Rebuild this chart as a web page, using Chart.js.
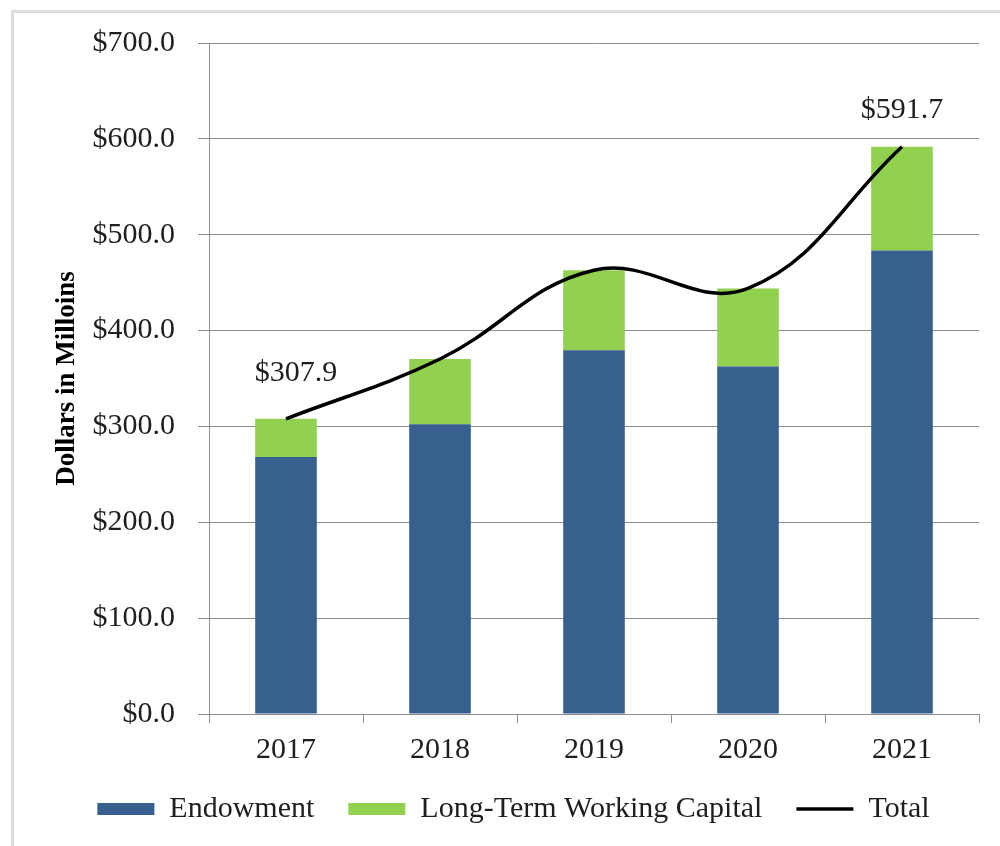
<!DOCTYPE html>
<html>
<head>
<meta charset="utf-8">
<script src="https://cdn.jsdelivr.net/npm/chart.js@4.4.1/dist/chart.umd.min.js"></script>
<style>
  html, body { margin: 0; padding: 0; background: #ffffff; }
  #wrap { position: relative; width: 1000px; height: 846px; overflow: hidden; }
  #frame { position: absolute; left: 11px; top: 10px; right: -10px; bottom: -10px;
           border-left: 3px solid #dcdcdc; border-top: 3px solid #dcdcdc; pointer-events: none; }
  canvas { position: absolute; left: 0; top: 0; }
</style>
</head>
<body>
<div id="wrap">
  <canvas id="fundChart" width="1000" height="846"></canvas>
  <div id="frame"></div>
</div>
<script>
// chart data
const years = ['2017', '2018', '2019', '2020', '2021'];
const endowment = [268.2, 302.3, 379.5, 362.5, 483.5];
const workingCapital = [39.7, 68.0, 83.5, 81.5, 108.2];
const totals = [307.9, 370.3, 463.0, 444.0, 591.7];
const labelledPoints = [0, 4];   // only first and last total get a value label

const serif = '"Liberation Serif", "Times New Roman", serif';
const gridGray = '#8f8f8f';
const textColor = '#1e1e1e';

// writes the total value above the first and last points of the line
const totalLabels = {
    id: 'totalLabels',
    afterDatasetsDraw(chart) {
        const meta = chart.getDatasetMeta(2);
        const ctx = chart.ctx;
        const shift = { 0: [10, -46], 4: [0, -37] };
        ctx.save();
        ctx.font = '30px ' + serif;
        ctx.fillStyle = textColor;
        ctx.textAlign = 'center';
        ctx.textBaseline = 'middle';
        labelledPoints.forEach(i => {
            const pt = meta.data[i];
            const d = shift[i] || [0, -40];
            ctx.fillText('$' + totals[i].toFixed(1), pt.x + d[0], pt.y + d[1]);
        });
        ctx.restore();
    }
};

// keep the legend band short even with wide item spacing
const legendHeight = {
    id: 'legendHeight',
    afterInit(chart) {
        const lg = chart.legend;
        if (!lg) return;
        const fit = lg.fit;
        lg.fit = function () {
            fit.call(this);
            this.height = 86;
        };
    }
};

const ctx = document.getElementById('fundChart');

new Chart(ctx.getContext('2d'), {
    type: 'bar',
    data: {
        labels: years,
        datasets: [
            {
                label: 'Endowment',
                data: endowment,
                backgroundColor: '#37608f',
                borderWidth: 0,
                barPercentage: 0.4,
                categoryPercentage: 1.0,
                order: 2
            },
            {
                label: 'Long-Term Working Capital',
                data: workingCapital,
                backgroundColor: '#92d050',
                borderWidth: 0,
                barPercentage: 0.4,
                categoryPercentage: 1.0,
                order: 2
            },
            {
                type: 'line',
                label: 'Total',
                data: totals,
                stack: 'total',
                borderColor: '#000000',
                backgroundColor: '#000000',
                borderWidth: 3.5,
                pointRadius: 0,
                pointStyle: 'line',
                tension: 0.4,
                fill: false,
                order: 1
            }
        ]
    },
    options: {
        responsive: false,
        animation: false,
        layout: { padding: { top: 43, right: 21, left: 48, bottom: 0 } },
        scales: {
            x: {
                stacked: true,
                offset: true,
                grid: {
                    offset: true,
                    drawOnChartArea: false,
                    drawTicks: true,
                    tickLength: 9,
                    color: gridGray
                },
                border: { display: true, color: gridGray, width: 1 },
                ticks: {
                    font: { family: serif, size: 30 },
                    color: textColor,
                    padding: 9,
                    maxRotation: 0
                },
                afterFit(scale) { scale.height = 46; }
            },
            y: {
                stacked: true,
                min: 0,
                max: 700,
                grid: { color: gridGray, tickLength: 11 },
                border: { display: true, color: gridGray, width: 1 },
                ticks: {
                    stepSize: 100,
                    font: { family: serif, size: 30 },
                    color: textColor,
                    padding: 23,
                    callback: v => '$' + Number(v).toFixed(1)
                },
                title: {
                    display: true,
                    text: 'Dollars in Milloins',
                    font: { family: serif, size: 27, weight: 'bold' },
                    color: '#000000',
                    padding: { top: 3, bottom: 0 }
                },
                afterFit(scale) { scale.width = 161; }
            }
        },
        plugins: {
            tooltip: { enabled: false },
            legend: {
                position: 'bottom',
                labels: {
                    font: { family: serif, size: 30 },
                    color: textColor,
                    usePointStyle: true,
                    pointStyleWidth: 57,
                    boxHeight: 12,
                    padding: 34,
                    sort: (a, b) => a.datasetIndex - b.datasetIndex,
                    generateLabels(chart) {
                        const items = Chart.defaults.plugins.legend.labels.generateLabels(chart);
                        items.forEach(it => {
                            if (it.datasetIndex === 2) {
                                it.pointStyle = 'line';
                                it.lineWidth = 3.5;
                                it.strokeStyle = '#000000';
                            } else {
                                it.pointStyle = 'rect';
                                it.lineWidth = 0;
                            }
                        });
                        return items;
                    }
                }
            }
        }
    },
    plugins: [totalLabels, legendHeight]
});
</script>
</body>
</html>
